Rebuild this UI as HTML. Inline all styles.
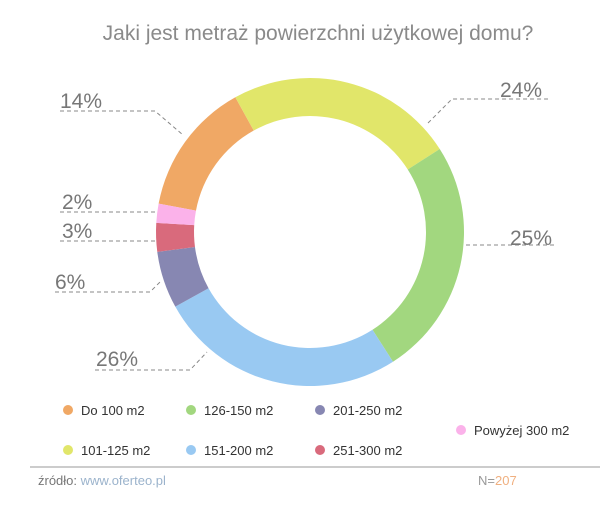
<!DOCTYPE html>
<html><head><meta charset="utf-8"><style>
body{margin:0;background:#fff;font-family:"Liberation Sans",sans-serif}
svg text{font-family:"Liberation Sans",sans-serif}
</style></head><body>
<svg width="600" height="500">
<text x="318" y="40" text-anchor="middle" font-size="21" fill="#8a8a8a">Jaki jest metraż powierzchni użytkowej domu?</text>
<g id="slices"></g>
<g id="labels" font-size="21" fill="#777"></g>
<g id="legend" font-size="13" fill="#333"></g>
<line x1="30" y1="467" x2="600" y2="467" stroke="#999" stroke-width="1"/>
<text x="38" y="485" font-size="13" fill="#777">źródło: <tspan fill="#9bb3cc">www.oferteo.pl</tspan></text>
<text x="478" y="485" font-size="13" fill="#999">N=<tspan fill="#f0b080">207</tspan></text>
</svg>
<script>
const categories=["Do 100 m2","101-125 m2","126-150 m2","151-200 m2","201-250 m2","251-300 m2","Powyżej 300 m2"];
const values=[14,24,25,26,6,3,2];
const colors=["#f0a865","#e1e66a","#a2d77f","#99c9f2","#8787b2","#d96a7c","#fbb2ea"];
const NS="http://www.w3.org/2000/svg";
const cx=310,cy=232,R=154,r=116,startDeg=-29-values[0]*3.6;
const total=values.reduce((a,b)=>a+b,0);
function pt(deg,rad){const a=(deg-90)*Math.PI/180;return [cx+rad*Math.cos(a),cy+rad*Math.sin(a)];}
const g=document.getElementById('slices');
let acc=startDeg;
values.forEach((v,i)=>{
 const a0=acc,a1=acc+v/total*360;acc=a1;
 const [x0,y0]=pt(a0,R),[x1,y1]=pt(a1,R),[x2,y2]=pt(a1,r),[x3,y3]=pt(a0,r);
 const lg=(a1-a0)>180?1:0;
 const p=document.createElementNS(NS,'path');
 p.setAttribute('d',`M${x0},${y0}A${R},${R} 0 ${lg} 1 ${x1},${y1}L${x2},${y2}A${r},${r} 0 ${lg} 0 ${x3},${y3}Z`);
 p.setAttribute('fill',colors[i]);
 
 
 g.appendChild(p);
});
const lab=document.getElementById('labels');
const labelPos=[[60,108,"60,111 155,111 183,135"],[500,97,"428,123 452,99 548,99"],[510,245,"466,245 557,245"],[96,366,"95,370 190,370 207,352"],[55,289,"55,292 150,292 160,282"],[62,238,"60,241 155,241"],[62,209,"60,212 155,212"]];
values.forEach((v,i)=>{
 const [tx,ty,pl]=labelPos[i];
 if(pl){const l=document.createElementNS(NS,'polyline');l.setAttribute('points',pl);l.setAttribute('fill','none');l.setAttribute('stroke','#888');l.setAttribute('stroke-dasharray','4,3');
 
 
 lab.appendChild(l);}
 const t=document.createElementNS(NS,'text');t.setAttribute('x',tx);t.setAttribute('y',ty);t.textContent=v+'%';
 
 
 lab.appendChild(t);
});
const leg=document.getElementById('legend');
const legPos=[[68,410],[68,450],[191,410],[191,450],[320,410],[320,450],[461,430]];
categories.forEach((c,i)=>{
 const [x,y]=legPos[i];
 const gg=document.createElementNS(NS,'g');
 
 
 const d=document.createElementNS(NS,'circle');d.setAttribute('cx',x);d.setAttribute('cy',y);d.setAttribute('r',5);d.setAttribute('fill',colors[i]);
 const t=document.createElementNS(NS,'text');t.setAttribute('x',x+13);t.setAttribute('y',y+5);t.textContent=c;
 gg.appendChild(d);gg.appendChild(t);leg.appendChild(gg);
});
</script>
</body></html>
